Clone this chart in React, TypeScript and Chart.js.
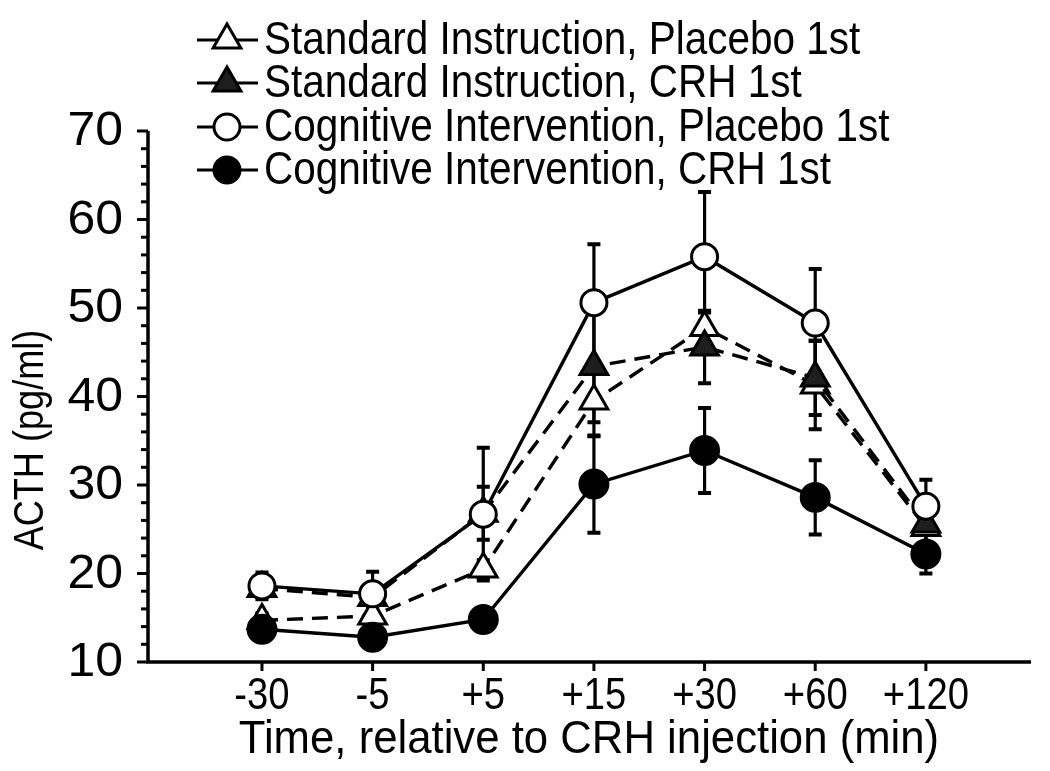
import React, { useEffect, useRef } from 'react';
import { Chart, registerables } from 'chart.js';

Chart.register(...registerables);

const timeLabels = ['-30', '-5', '+5', '+15', '+30', '+60', '+120'];
const yTickValues = [10, 20, 30, 40, 50, 60, 70];
const seriesNames = [
  'Standard Instruction, Placebo 1st',
  'Standard Instruction, CRH 1st',
  'Cognitive Intervention, Placebo 1st',
  'Cognitive Intervention, CRH 1st',
];
const siPlacebo = [14.7, 15.2, 20.5, 39.5, 47.8, 41.3, 25.2];
const siPlaceboErr = [0.8, 1.0, 1.0, 4.0, 1.7, 5.0, 2.5];
const siCrh = [18.3, 17.3, 26.8, 43.4, 45.6, 42.1, 25.6];
const siCrhErr = [0.8, 1.0, 3.0, 6.3, 4.1, 4.2, 2.5];
const ciPlacebo = [18.6, 17.7, 26.7, 50.6, 55.8, 48.3, 27.6];
const ciPlaceboErr = [1.5, 2.5, 7.5, 6.6, 7.3, 6.1, 3.0];
const ciCrh = [13.7, 12.8, 14.8, 30.1, 33.9, 28.6, 22.2];
const ciCrhErr = [0.8, 0.8, 1.2, 5.5, 4.8, 4.2, 2.2];

const FONT = '"Liberation Sans", Arial, Helvetica, sans-serif';

type Style = { kind: 'tri' | 'circle'; fill: string; dash: number[] };
const styles: Style[] = [
  { kind: 'tri', fill: '#ffffff', dash: [16, 9] },
  { kind: 'tri', fill: '#1e1e1e', dash: [16, 9] },
  { kind: 'circle', fill: '#ffffff', dash: [] },
  { kind: 'circle', fill: '#000000', dash: [] },
];
const values = [siPlacebo, siCrh, ciPlacebo, ciCrh];
const errors = [siPlaceboErr, siCrhErr, ciPlaceboErr, ciCrhErr];
// lower = drawn later (on top)
const layerOrder = [3, 2, 0, 1];

function drawMarker(ctx: CanvasRenderingContext2D, kind: string, fill: string, x: number, y: number) {
  ctx.save();
  ctx.setLineDash([]);
  ctx.lineWidth = 3;
  ctx.strokeStyle = '#000';
  ctx.fillStyle = fill;
  ctx.beginPath();
  if (kind === 'tri') {
    const r = 16;
    ctx.moveTo(x, y - r);
    ctx.lineTo(x + r * Math.sin(Math.PI * 2 / 3), y - r * Math.cos(Math.PI * 2 / 3));
    ctx.lineTo(x - r * Math.sin(Math.PI * 2 / 3), y - r * Math.cos(Math.PI * 2 / 3));
    ctx.closePath();
  } else {
    ctx.arc(x, y, 13, 0, Math.PI * 2);
  }
  ctx.fill();
  ctx.stroke();
  ctx.restore();
}

function scaledText(ctx: CanvasRenderingContext2D, text: string, x: number, y: number, size: number, sx: number, align: CanvasTextAlign) {
  ctx.save();
  ctx.translate(x, y);
  ctx.scale(sx, 1);
  ctx.font = `${size}px ${FONT}`;
  ctx.textAlign = align;
  ctx.textBaseline = 'middle';
  ctx.fillStyle = '#000';
  ctx.fillText(text, 0, 0);
  ctx.restore();
}

const frame = {
  id: 'frame',
  beforeDatasetsDraw(chart: any) {
    const ctx: CanvasRenderingContext2D = chart.ctx;
    const xs = chart.scales.x;
    const ys = chart.scales.y;
    const { left, right, top, bottom } = chart.chartArea;
    ctx.save();
    ctx.strokeStyle = '#000';
    ctx.lineCap = 'butt';
    ctx.lineWidth = 3.5;
    ctx.beginPath();
    ctx.moveTo(left, top);
    ctx.lineTo(left, bottom + 1.75);
    ctx.moveTo(left - 1.75, bottom);
    ctx.lineTo(right, bottom);
    ctx.stroke();
    ctx.lineWidth = 3;
    for (let v = 10; v <= 70; v += 2) {
      const y = ys.getPixelForValue(v);
      const len = v % 10 === 0 ? 11 : 7;
      ctx.beginPath();
      ctx.moveTo(left, y);
      ctx.lineTo(left - len, y);
      ctx.stroke();
    }
    timeLabels.forEach((_, i) => {
      const x = xs.getPixelForValue(i);
      ctx.beginPath();
      ctx.moveTo(x, bottom);
      ctx.lineTo(x, bottom + 9);
      ctx.stroke();
    });
    yTickValues.forEach((v) => {
      scaledText(ctx, String(v), left - 25, ys.getPixelForValue(v) + 1, 48, 1.04, 'right');
    });
    timeLabels.forEach((t, i) => {
      scaledText(ctx, t, xs.getPixelForValue(i), bottom + 35, 45, 0.85, 'center');
    });
    [0, 1, 2, 3].forEach((s) => {
      values[s].forEach((v, i) => {
        const e = errors[s][i];
        const x = xs.getPixelForValue(i);
        const y1 = ys.getPixelForValue(v + e);
        const y2 = ys.getPixelForValue(v - e);
        ctx.lineWidth = 3.2;
        ctx.beginPath();
        ctx.moveTo(x, y1);
        ctx.lineTo(x, y2);
        ctx.stroke();
        ctx.lineWidth = 4;
        ctx.beginPath();
        ctx.moveTo(x - 6.5, y1);
        ctx.lineTo(x + 6.5, y1);
        ctx.moveTo(x - 6.5, y2);
        ctx.lineTo(x + 6.5, y2);
        ctx.stroke();
      });
    });
    ctx.restore();
  },
  afterDraw(chart: any) {
    const ctx: CanvasRenderingContext2D = chart.ctx;
    ctx.save();
    const rows = [40, 83, 127, 170];
    seriesNames.forEach((name, i) => {
      const y = rows[i];
      ctx.strokeStyle = '#000';
      ctx.lineWidth = 3;
      ctx.setLineDash([]);
      ctx.beginPath();
      ctx.moveTo(197, y);
      ctx.lineTo(258, y);
      ctx.stroke();
      drawMarker(ctx, styles[i].kind, styles[i].fill, 227, y);
      scaledText(ctx, name, 264, y + 1, 46, 0.88, 'left');
    });
    scaledText(ctx, 'Time, relative to CRH injection (min)', 589, 740, 47, 0.93, 'center');
    ctx.translate(31, 440);
    ctx.rotate(-Math.PI / 2);
    scaledText(ctx, 'ACTH (pg/ml)', 0, 0, 42, 0.86, 'center');
    ctx.restore();
  },
};

export default function App() {
  const ref = useRef<HTMLCanvasElement>(null);
  useEffect(() => {
    if (!ref.current) return;
    const datasets = seriesNames.map((name, s) => ({
      label: name,
      data: values[s].map((v, i) => ({ x: i, y: v })),
      borderColor: '#000',
      borderWidth: 3.4,
      borderDash: styles[s].dash,
      backgroundColor: styles[s].fill,
      pointStyle: styles[s].kind === 'tri' ? 'triangle' : 'circle',
      pointRadius: styles[s].kind === 'tri' ? 16 : s === 3 ? 14 : 13,
      pointBorderWidth: 3,
      pointBorderColor: '#000',
      pointBackgroundColor: styles[s].fill,
      tension: 0,
      fill: false,
      clip: false,
      order: layerOrder[s],
    }));
    const chart = new Chart(ref.current, {
      type: 'line',
      data: { datasets },
      options: {
        responsive: false,
        animation: false,
        devicePixelRatio: 1,
        layout: { padding: { top: 131, right: 15, left: 0, bottom: 0 } },
        plugins: { legend: { display: false }, tooltip: { enabled: false } },
        scales: {
          x: {
            type: 'linear',
            min: -1.03,
            max: 6.95,
            grid: { display: false, drawTicks: false },
            border: { display: false },
            afterFit: (scale: any) => { scale.height = 109; },
            afterBuildTicks: (scale: any) => { scale.ticks = timeLabels.map((_, i) => ({ value: i })); },
            ticks: { display: false },
          },
          y: {
            type: 'linear',
            min: 10,
            max: 70,
            grid: { display: false, drawTicks: false },
            border: { display: false },
            afterFit: (scale: any) => { scale.width = 148; },
            afterBuildTicks: (scale: any) => { scale.ticks = yTickValues.map((v) => ({ value: v })); },
            ticks: { display: false },
          },
        },
      },
      plugins: [frame],
    } as any);
    return () => chart.destroy();
  }, []);
  return (
    <div style={{ position: 'absolute', left: 0, top: 0, width: 1050, height: 771, background: '#fff' }}>
      <canvas ref={ref} width={1050} height={771} style={{ display: 'block' }} />
    </div>
  );
}
